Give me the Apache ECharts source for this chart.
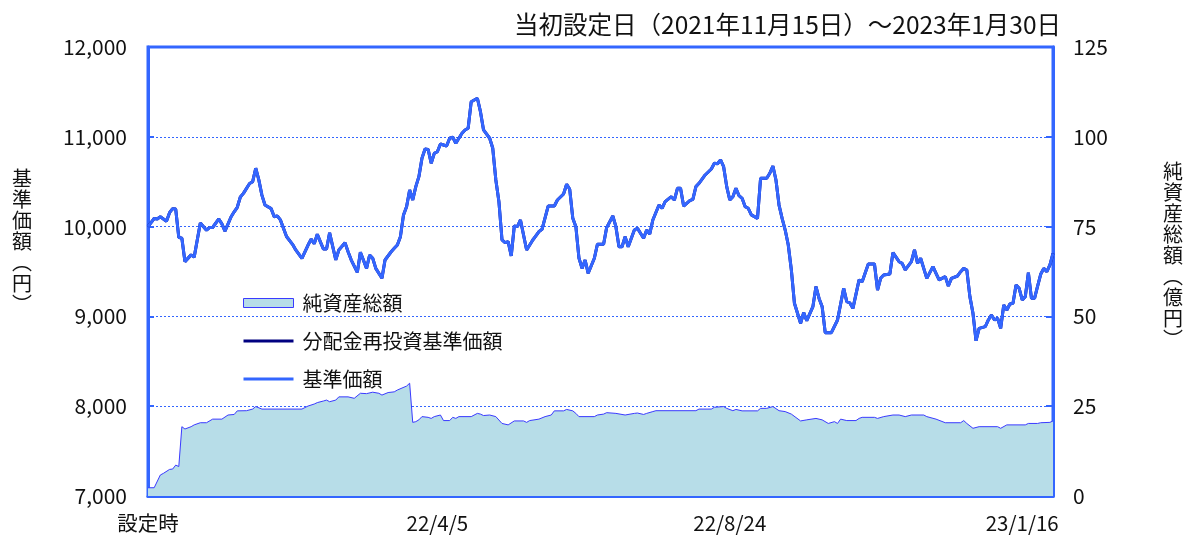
<!DOCTYPE html>
<html>
<head>
<meta charset="utf-8">
<script src="https://cdn.jsdelivr.net/npm/echarts@6/dist/echarts.min.js"></script>
<style>
  html, body { margin: 0; padding: 0; background: #fff; }
  #chart { width: 1186px; height: 540px; }
</style>
</head>
<body>
<div id="chart"></div>
<script>
// trading-day index (0 = 2021/11/15 設定時) and x-axis labels
const tickDays = [0, 94, 189, 284];
const tickLabels = ["設定時", "22/4/5", "22/8/24", "23/1/16"];
const lastDay = 294;

// 基準価額 (円) at trading-day positions
const navDays = [
    0, 2, 3, 4, 6, 7, 8, 9, 10, 11, 12, 14, 15, 16, 17, 19, 20, 21, 23, 24,
    25, 27, 28, 29, 30, 31, 33, 34, 35, 36, 37, 38, 40, 41, 42, 43, 45, 47, 48, 50,
    52, 53, 54, 55, 56, 57, 58, 59, 61, 62, 64, 65, 66, 68, 69, 71, 72, 73, 74, 76,
    77, 79, 80, 81, 82, 83, 84, 85, 86, 87, 88, 89, 90, 91, 92, 93, 94, 95, 97, 98,
    99, 100, 102, 103, 104, 105, 107, 108, 109, 111, 112, 113, 114, 115, 116, 117, 118, 119, 120, 121,
    123, 125, 126, 127, 128, 130, 132, 133, 135, 136, 137, 138, 139, 140, 141, 142, 143, 145, 146, 148,
    149, 151, 152, 153, 154, 155, 156, 158, 159, 161, 162, 163, 164, 166, 167, 168, 170, 171, 172, 173,
    174, 176, 177, 178, 179, 181, 183, 184, 185, 186, 187, 188, 189, 190, 191, 192, 193, 194, 195, 196,
    198, 199, 201, 202, 203, 204, 205, 206, 207, 208, 209, 210, 212, 213, 214, 216, 217, 218, 219, 220,
    222, 224, 226, 227, 228, 229, 231, 232, 234, 236, 237, 238, 239, 241, 242, 244, 245, 246, 248, 249,
    250, 251, 253, 255, 256, 257, 259, 260, 261, 263, 264, 265, 266, 267, 268, 269, 270, 272, 273, 274,
    275, 276, 277, 278, 279, 280, 281, 282, 283, 284, 285, 286, 287, 288, 289, 290, 291, 292, 293, 294
];
const navValues = [
    10000, 10090, 10085, 10110, 10060, 10155, 10200, 10195, 9880, 9870, 9610, 9685, 9660, 9850, 10040, 9960, 9990, 9990, 10085, 10030,
    9950, 10110, 10165, 10215, 10330, 10370, 10480, 10500, 10650, 10520, 10350, 10240, 10200, 10110, 10120, 10075, 9890, 9800, 9740, 9645,
    9795, 9860, 9810, 9915, 9830, 9750, 9750, 9930, 9630, 9740, 9820, 9720, 9630, 9490, 9715, 9535, 9684, 9647, 9535, 9424,
    9628, 9720, 9758, 9795, 9888, 10130, 10222, 10408, 10296, 10445, 10556, 10761, 10864, 10860, 10705, 10816, 10834, 10920, 10898, 10984,
    10995, 10928, 11039, 11076, 11095, 11391, 11429, 11280, 11076, 10984, 10872, 10519, 10278, 9851, 9821, 9832, 9673, 10007, 10000, 10074,
    9740, 9851, 9896, 9944, 9970, 10229, 10229, 10296, 10363, 10471, 10415, 10092, 9999, 9650, 9535, 9628, 9480, 9647, 9803, 9803,
    9989, 10118, 9999, 9776, 9776, 9888, 9776, 9962, 9981, 9870, 9962, 9918, 10074, 10240, 10204, 10278, 10333, 10296, 10426, 10426,
    10229, 10289, 10304, 10445, 10482, 10575, 10641, 10705, 10700, 10742, 10667, 10445, 10296, 10333, 10426, 10344, 10315, 10222, 10204, 10130,
    10092, 10538, 10538, 10594, 10675, 10519, 10240, 10092, 9962, 9795, 9517, 9146, 8923, 9042, 8952, 9109, 9332, 9200, 9109, 8819,
    8819, 8960, 9313, 9164, 9150, 9090, 9406, 9387, 9583, 9583, 9294, 9424, 9461, 9472, 9710, 9609, 9591, 9517, 9609, 9740,
    9591, 9647, 9424, 9554, 9480, 9406, 9443, 9338, 9424, 9450, 9498, 9535, 9517, 9220, 9034, 8729, 8867, 8886, 8960, 9016,
    8960, 8979, 8867, 9127, 9071, 9138, 9146, 9350, 9313, 9183, 9220, 9487, 9201, 9201, 9338, 9469, 9535, 9498, 9573, 9703
];

// 純資産総額 (億円)
const assetDays = [
    0, 2, 4, 5, 7, 8, 9, 10, 11, 12, 14, 15, 17, 19, 21, 24, 26, 28, 29, 32,
    34, 35, 37, 50, 52, 54, 55, 57, 58, 59, 61, 62, 65, 67, 69, 71, 73, 75, 76, 78,
    80, 81, 84, 85, 86, 87, 88, 89, 91, 92, 93, 95, 96, 98, 99, 100, 101, 105, 107, 108,
    109, 111, 113, 115, 117, 119, 122, 123, 124, 127, 129, 131, 132, 135, 136, 138, 139, 140, 145, 146,
    148, 149, 152, 155, 158, 159, 161, 162, 164, 165, 178, 179, 183, 184, 187, 188, 190, 191, 193, 198,
    199, 201, 203, 205, 207, 209, 212, 214, 217, 219, 221, 223, 224, 225, 227, 230, 231, 232, 236, 237,
    239, 242, 244, 246, 248, 252, 253, 256, 259, 264, 265, 266, 268, 270, 276, 277, 279, 285, 286, 289,
    290, 293, 294
];
const assetValues = [
    2.3, 2.3, 5.85, 6.3, 7.4, 7.5, 8.6, 8.2, 19.3, 18.65, 19.3, 19.8, 20.4, 20.4, 21.4, 21.4, 22.55, 22.7, 23.7, 23.75,
    24.2, 24.9, 24.2, 24.2, 25.05, 25.6, 26.0, 26.45, 26.7, 26.25, 26.7, 27.6, 27.6, 27.2, 28.6, 28.5, 28.9, 28.6, 28.1, 28.8,
    29.0, 29.5, 30.6, 31.4, 20.5, 20.7, 21.2, 22.1, 21.9, 21.6, 22.1, 22.55, 21.0, 21.0, 21.9, 21.6, 22.1, 22.1, 23.0, 22.8,
    22.4, 22.55, 22.1, 20.2, 19.8, 20.9, 20.9, 20.5, 21.0, 21.4, 22.1, 22.55, 23.7, 23.7, 24.1, 23.7, 23.0, 22.1, 22.1, 22.55,
    22.8, 23.2, 23.0, 22.55, 23.0, 23.1, 22.7, 23.0, 23.5, 23.75, 23.75, 24.2, 24.2, 24.7, 24.9, 24.4, 23.75, 24.1, 23.7, 23.7,
    24.4, 24.4, 24.9, 23.75, 23.5, 22.8, 20.9, 21.2, 21.6, 21.2, 20.2, 20.7, 20.2, 21.4, 21.0, 21.0, 21.6, 21.9, 21.9, 21.6,
    22.1, 22.55, 22.55, 22.1, 22.55, 22.55, 22.1, 21.4, 20.4, 20.4, 21.0, 20.2, 18.85, 19.3, 19.3, 18.85, 19.8, 19.8, 20.2, 20.2,
    20.4, 20.5, 20.9
];

const BLUE = "#3366ff";
const NAVY = "#000080";
const AREA = "#b7dde8";
const AREA_LINE = "#3a3aff";
const JP_FONT = '"Noto Sans CJK JP", sans-serif';
// thin bar for line items in the legend (tiny sliver keeps the box 50x9)
const LINE_ICON = "path://M0,0L0.01,0L0.01,9L0,9Z M0,3L50,3L50,6L0,6Z";

function pairs(days, values) {
    return days.map((d, i) => [d, values[i]]);
}

const chart = echarts.init(document.getElementById("chart"));

chart.setOption({
    animation: false,
    backgroundColor: "#fff",
    title: {
        text: "当初設定日（2021年11月15日）～2023年1月30日",
        right: 120,
        top: 7,
        textStyle: { fontFamily: JP_FONT, fontSize: 24.5, fontWeight: "normal", color: "#111" }
    },
    legend: {
        orient: "vertical",
        left: 238,
        top: 288,
        itemWidth: 50,
        itemHeight: 9,
        itemGap: 18,
        textStyle: { fontFamily: JP_FONT, fontSize: 20, color: "#111", padding: [0, 0, 0, 4] },
        data: [
            { name: "純資産総額", icon: "rect", itemStyle: { color: AREA, borderColor: AREA_LINE, borderWidth: 1 } },
            { name: "分配金再投資基準価額", icon: LINE_ICON, itemStyle: { color: NAVY, borderWidth: 0 } },
            { name: "基準価額", icon: LINE_ICON, itemStyle: { color: BLUE, borderWidth: 0 } }
        ]
    },
    graphic: [
        {
            type: "text",
            left: 12,
            top: 168,
            style: {
                text: "基\n準\n価\n額\n︵\n円\n︶",
                font: '20px "Noto Sans CJK JP"',
                lineHeight: 21,
                align: "center",
                fill: "#111"
            }
        },
        {
            type: "text",
            left: 1163,
            top: 161,
            style: {
                text: "純\n資\n産\n総\n額\n︵\n億\n円\n︶",
                font: '20px "Noto Sans CJK JP"',
                lineHeight: 21,
                align: "center",
                fill: "#111"
            }
        }
    ],
    grid: {
        left: 148,
        right: 133,
        top: 47,
        bottom: 44,
        outerBoundsMode: "none",
        show: true,
        borderColor: BLUE,
        borderWidth: 3,
        backgroundColor: "transparent"
    },
    xAxis: {
        type: "value",
        min: 0,
        max: lastDay,
        axisLine: { show: true, lineStyle: { color: BLUE, width: 3 } },
        axisTick: {
            show: true,
            inside: true,
            length: 7,
            customValues: tickDays.slice(1),
            lineStyle: { color: BLUE, width: 2 }
        },
        axisLabel: {
            customValues: tickDays,
            margin: 17,
            fontFamily: JP_FONT,
            fontSize: 20.5,
            color: "#111",
            formatter: function (v) {
                const k = tickDays.indexOf(Math.round(v));
                return k >= 0 ? tickLabels[k] : "";
            }
        },
        splitLine: { show: false }
    },
    yAxis: [
        {
            type: "value",
            min: 7000,
            max: 12000,
            interval: 1000,
            axisLine: { show: true, lineStyle: { color: BLUE, width: 3 } },
            axisTick: { show: true, inside: true, length: 6, lineStyle: { color: BLUE, width: 2 } },
            axisLabel: {
                margin: 21,
                fontFamily: JP_FONT,
                fontSize: 21,
                color: "#111",
                formatter: v => v.toLocaleString("en-US")
            },
            splitLine: { show: true, lineStyle: { color: BLUE, width: 1, type: [2, 2] } }
        },
        {
            type: "value",
            min: 0,
            max: 125,
            interval: 25,
            position: "right",
            axisLine: { show: true, lineStyle: { color: BLUE, width: 3 } },
            axisTick: { show: true, inside: true, length: 7, lineStyle: { color: BLUE, width: 2 } },
            axisLabel: { margin: 20, fontFamily: JP_FONT, fontSize: 21, color: "#111" },
            splitLine: { show: false }
        }
    ],
    series: [
        {
            name: "純資産総額",
            type: "line",
            yAxisIndex: 1,
            symbol: "none",
            data: pairs(assetDays, assetValues),
            lineStyle: { color: AREA_LINE, width: 1 },
            itemStyle: { color: AREA },
            areaStyle: { color: AREA, opacity: 1 },
            z: 1
        },
        {
            name: "分配金再投資基準価額",
            type: "line",
            symbol: "none",
            data: pairs(navDays, navValues),
            lineStyle: { color: NAVY, width: 3 },
            itemStyle: { color: NAVY },
            z: 2
        },
        {
            name: "基準価額",
            type: "line",
            symbol: "none",
            data: pairs(navDays, navValues),
            lineStyle: { color: BLUE, width: 3 },
            itemStyle: { color: BLUE },
            z: 3
        }
    ]
});
</script>
</body>
</html>
